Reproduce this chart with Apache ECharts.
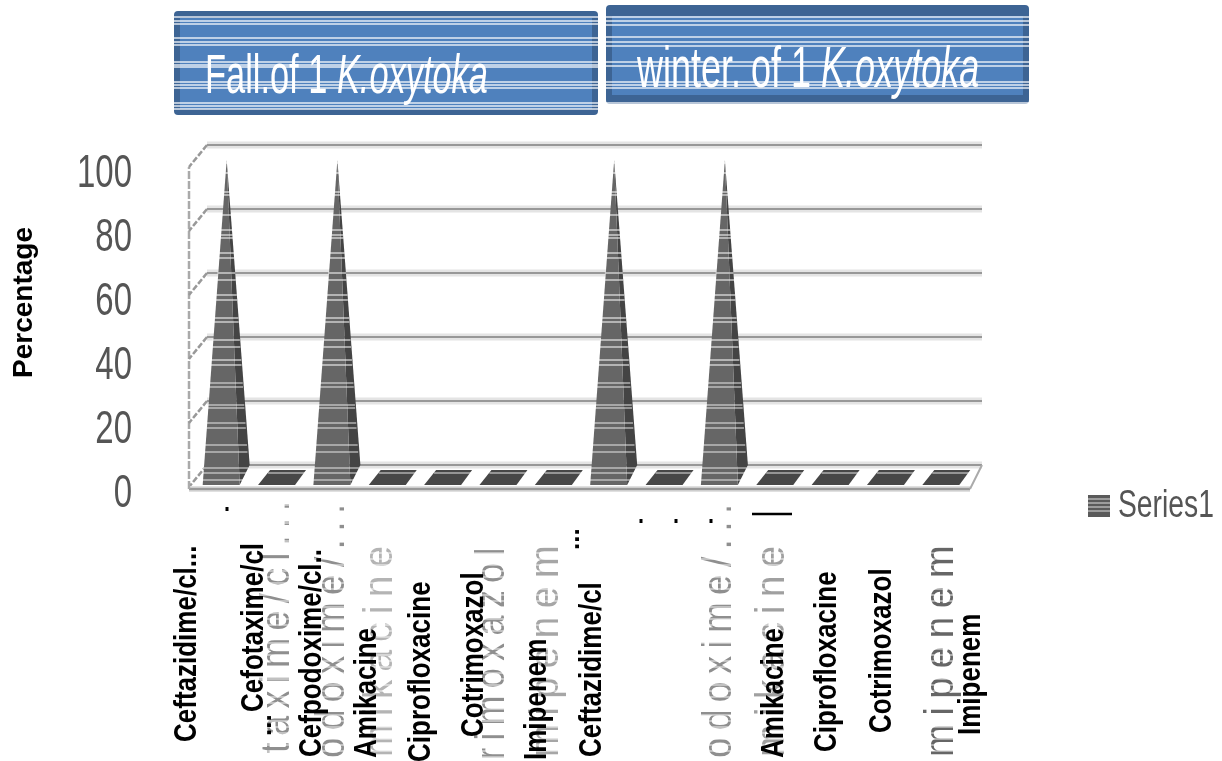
<!DOCTYPE html>
<html><head><meta charset="utf-8">
<style>html,body{margin:0;padding:0;background:#fff}#c{width:1222px;height:761px}</style>
<script src="https://cdn.jsdelivr.net/npm/echarts@6/dist/echarts.min.js"></script>
</head><body><div id="c"></div>
<script>
const categories = ['Ceftazidime/cl...','Cefotaxime/cl','Cefpodoxime/cl..','Amikacine','Ciprofloxacine','Cotrimoxazol','Imipenem','Ceftazidime/cl','Cefotaxime/cl','Cefpodoxime/cl','Amikacine','Ciprofloxacine','Cotrimoxazol','Imipenem'];
const values = [100,0,100,0,0,0,0,100,0,100,0,0,0,0];
const yTicks = [0,20,40,60,80,100];
const seriesName = 'Series1';
const yTitle = 'Percentage';
const titles = [['Fall.of 1 ','K.oxytoka'],['winter. of 1 ','K.oxytoka']];

const SANS = '"Liberation Sans",Arial,sans-serif';
const BOLD = 'bold 26px '+SANS;
const stripesPlot = [163,173,192,195,215,230,235,238,253,258,273,280,295,300,318,322,340,347,360,365,383,387,405,408,423,428,445,452,468,473,480];

// bold label layout [category index, x, bottom y]
const boldLayout = [[0,188,742],[1,255,712],[2,313,757],[3,368,758],[4,422,762],[5,475,737],[6,538,760],[7,593,757],[10,775,758],[11,828,752],[12,883,733],[13,972,735]];
// faint oversize labels [text, x, bottom y, colour, stretch]
const ghostLayout = [['taxime/cl...',278,753,'#8f8f8f',0.95],['odoxime/...',333,758,'#8f8f8f',0.97],['mikacine',381,757,'#b4b4b4',1.04],['rimoxazol',493,760,'#8f8f8f',0.95],['mipenem',547,757,'#a6a6a6',1.05],['odoxime/...',720,758,'#8f8f8f',0.97],['mikacine',773,757,'#a0a0a0',1.04],['mipenem',942,757,'#666666',1.05]];
const dots = [[227,509],[641,521],[676,521],[711,521]];

const g = [];
function rect(x,y,w,h,fill,r,z){g.push({type:'rect',z:z||1,shape:{x,y,width:w,height:h,r:r||0},style:{fill}});}
function hline(x1,x2,y,z,color,lw){g.push({type:'line',z:z||10,shape:{x1,y1:y,x2,y2:y},style:{stroke:color||'rgba(255,255,255,.85)',lineWidth:lw||1.4}});}
// header boxes
rect(174,11,424,104,'#3d6494',4); rect(180,18,412,91,'#4f81bd');
rect(606,5,423,99,'#3d6494',4); rect(612,16,411,79,'#4f81bd');
[17,21,24,38,42,45,62,65,67,82,85,88,103,106,109].forEach(y=>hline(174,598,y));
[17,21,25,37,42,46,62,66,82,85,88,103].forEach(y=>hline(606,1029,y));
function head(t,x,y,fs){g.push({type:'text',z:5,x,y,scaleY:1.6,style:{text:'{a|'+t[0]+'}{b|'+t[1]+'}',fill:'#fff',textVerticalAlign:'middle',
  rich:{a:{fontFamily:SANS,fontSize:fs,fill:'#fff'},b:{fontFamily:SANS,fontSize:fs,fontStyle:'italic',fill:'#fff'}}}});}
head(titles[0],205,78,34.4); head(titles[1],637,71,36);
// y title
g.push({type:'text',z:5,x:24,y:378,rotation:Math.PI/2,style:{text:yTitle,font:'bold 28px '+SANS,fill:'#000',textAlign:'left',textVerticalAlign:'middle'}});
// ghost labels with broken strokes
ghostLayout.forEach(a=>{
  g.push({type:'text',z:2,x:a[1],y:a[2],rotation:Math.PI/2,scaleX:a[4],scaleY:1.05,style:{text:a[0].split('').join('\u2009'),font:'38px '+SANS,fill:a[3],textAlign:'left',textVerticalAlign:'middle'}});
  for(let y=505;y<761;y+=6) hline(a[1]-22,a[1]+22,y,3,'rgba(255,255,255,.9)',1.2);
});
// bold labels
boldLayout.forEach(a=>g.push({type:'text',z:6,x:a[1],y:a[2],rotation:Math.PI/2,scaleY:1.18,style:{text:categories[a[0]],font:BOLD,fill:'#000',textAlign:'left',textVerticalAlign:'middle'}}));
g.push({type:'text',z:6,x:264,y:736,rotation:Math.PI/2,style:{text:'...',font:BOLD,fill:'#000',textAlign:'left',textVerticalAlign:'middle'}});
g.push({type:'text',z:6,x:572,y:550,rotation:Math.PI/2,style:{text:'...',font:BOLD,fill:'#000',textAlign:'left',textVerticalAlign:'middle'}});
dots.forEach(d=>rect(d[0]-1.5,d[1]-2,3,4,'#000',0,6));
hline(752,792,514,6,'#000',2.5);
// legend
[499,503,507,511].forEach(y=>hline(1088,1112,y,10,'rgba(255,255,255,.8)',1));
g.push({type:'text',z:5,x:1118,y:506,scaleY:1.4,style:{text:seriesName,font:'28.3px '+SANS,fill:'#555',textAlign:'left',textVerticalAlign:'middle'}});

function renderBar(params, api){
  const i = api.value(0), v = api.value(1);
  const p0 = api.coord([i,0]), p1 = api.coord([i,v]);
  const c = p0[0]-8, y0 = p0[1], front = y0+20;
  if(v===0){
    return {type:'group',children:[
      {type:'polygon',shape:{points:[[c-24,front],[c+13,front],[c+24,y0+5],[c-12,y0+5]]},style:{fill:'#474747'}},
      {type:'line',shape:{x1:c-14,y1:y0+8,x2:c+24,y2:y0+8},style:{stroke:'rgba(255,255,255,.85)',lineWidth:1}}
    ]};
  }
  const apex = p1[1]+15;
  const kids = [
    {type:'polygon',shape:{points:[[c+13,front],[c+23,y0],[c,apex]]},style:{fill:'#444444'}},
    {type:'polygon',shape:{points:[[c-24,front],[c+13,front],[c,apex]]},style:{fill:'#666666'}}
  ];
  stripesPlot.forEach(y=>{
    if(y<apex||y>front) return;
    const t=(y-apex)/(front-apex);
    kids.push({type:'line',shape:{x1:c-24*t-1,y1:y,x2:c+22*t+1,y2:y},style:{stroke:'rgba(255,255,255,.85)',lineWidth:1.2}});
  });
  return {type:'group',children:kids};
}
function renderFrame(params, api){
  const v = api.value(1), s = params.coordSys, y = api.coord([0,v])[1];
  const kids=[
    {type:'line',shape:{x1:s.x,y1:y,x2:s.x+s.width,y2:y},style:{stroke:'#e4e4e4',lineWidth:7}},
    {type:'line',shape:{x1:s.x,y1:y,x2:s.x+s.width,y2:y},style:{stroke:'#989898',lineWidth:2}},
    {type:'line',shape:{x1:s.x,y1:y,x2:s.x-18,y2:y+22},style:{stroke:'#999',lineWidth:2.5,lineDash:[6,2]}},
    {type:'text',x:s.x-75,y:y+29,scaleY:1.4,style:{text:String(v),font:'33px '+SANS,fill:'#555',textAlign:'right',textVerticalAlign:'middle'}}
  ];
  if(v===0){
    kids.push({type:'line',shape:{x1:s.x-18,y1:y+24,x2:s.x+s.width-12,y2:y+24},style:{stroke:'#e0e0e0',lineWidth:6}});
    kids.push({type:'line',shape:{x1:s.x-18,y1:y+24,x2:s.x+s.width-12,y2:y+24},style:{stroke:'#999',lineWidth:2.5}});
    kids.push({type:'line',shape:{x1:s.x+s.width-12,y1:y+24,x2:s.x+s.width,y2:y},style:{stroke:'#aaa',lineWidth:2}});
    const top = api.coord([0,100])[1]+22;
    kids.push({type:'line',shape:{x1:s.x-18,y1:y+24,x2:s.x-18,y2:top},style:{stroke:'#aaa',lineWidth:2.5,lineDash:[8,2]}});
  }
  return {type:'group',children:kids};
}

const chart = echarts.init(document.getElementById('c'));
chart.setOption({
  animation:false,
  grid:{left:207,top:145,width:775,height:320},
  legend:{data:[seriesName],left:1088,top:495,padding:0,itemWidth:22,itemHeight:22,itemGap:0,icon:'rect',formatter:()=>''},
  xAxis:{type:'category',data:categories,axisLabel:{show:false},axisLine:{show:false},axisTick:{show:false}},
  yAxis:{type:'value',min:0,max:100,interval:20,axisLine:{show:false},axisTick:{show:false},
    splitLine:{show:true,lineStyle:{color:'#a0a0a0',width:2}},axisLabel:{show:false}},
  graphic:{elements:g},
  series:[
    {type:'custom',name:'frame',silent:true,z:1,renderItem:renderFrame,encode:{x:0,y:1},data:yTicks.map(t=>[0,t])},
    {type:'custom',name:seriesName,z:3,itemStyle:{color:'#5a5a5a'},renderItem:renderBar,encode:{x:0,y:1},data:values.map((v,i)=>[i,v])}
  ]
});
</script></body></html>
